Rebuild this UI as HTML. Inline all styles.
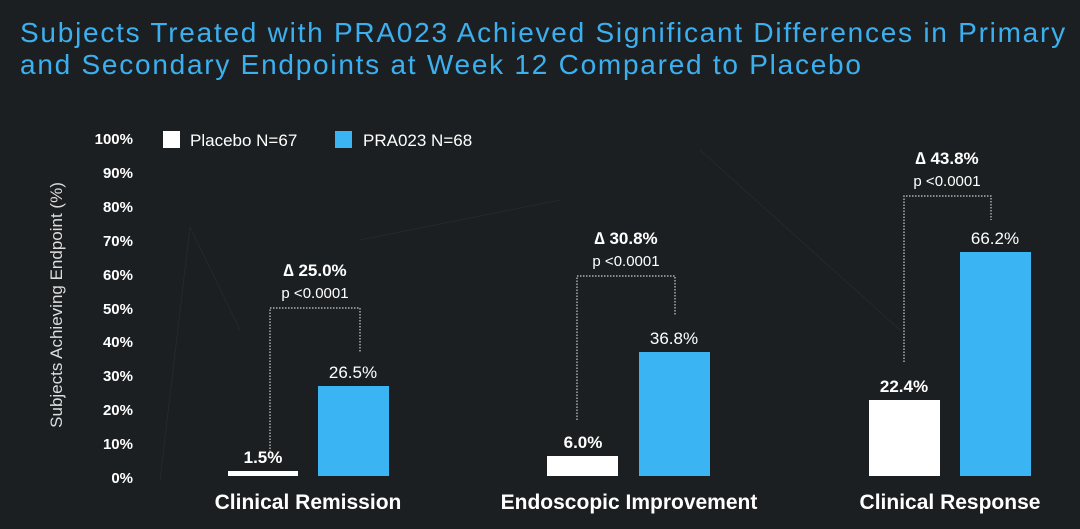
<!DOCTYPE html>
<html><head><meta charset="utf-8"><style>
body{margin:0;width:1080px;height:529px;background:#1c1f21;overflow:hidden;font-family:"Liberation Sans",sans-serif;position:relative;color:#fff}
.t{position:absolute;left:20px;top:17px;font-size:28px;line-height:32px;color:#3cb0ef;letter-spacing:1.75px;white-space:nowrap}
</style></head><body>
<div class="t">Subjects Treated with PRA023 Achieved Significant Differences in Primary<br>and Secondary Endpoints at Week 12 Compared to Placebo</div>
<svg width="1080" height="529" style="position:absolute;left:0;top:0" font-family="Liberation Sans, sans-serif">
<g stroke="#30353a" stroke-width="0.8" opacity="0.5">
<line x1="190" y1="227" x2="160" y2="480"/><line x1="190" y1="227" x2="240" y2="330"/><line x1="360" y1="240" x2="560" y2="200"/><line x1="700" y1="150" x2="900" y2="330"/>
</g>
<g font-size="15" font-weight="bold" fill="#fff" text-anchor="end">
<text x="133" y="144">100%</text><text x="133" y="178">90%</text><text x="133" y="212">80%</text><text x="133" y="246">70%</text><text x="133" y="280">60%</text><text x="133" y="314">50%</text><text x="133" y="347">40%</text><text x="133" y="381">30%</text><text x="133" y="415">20%</text><text x="133" y="449">10%</text><text x="133" y="483">0%</text>
</g>
<text transform="translate(62,305) rotate(-90)" font-size="17" fill="#ddd" text-anchor="middle">Subjects Achieving Endpoint (%)</text>
<rect x="163" y="131" width="17" height="17" fill="#fff"/><text x="190" y="146" font-size="17" fill="#fff">Placebo N=67</text>
<rect x="335" y="131" width="17" height="17" fill="#3ab4f2"/><text x="363" y="146" font-size="17" fill="#fff">PRA023 N=68</text>
<g fill="#fff"><rect x="228" y="471" width="70" height="5"/><rect x="547" y="456" width="71" height="20"/><rect x="869" y="400" width="71" height="76"/></g>
<g fill="#3ab4f2"><rect x="318" y="386" width="71" height="90"/><rect x="639" y="352" width="71" height="124"/><rect x="960" y="252" width="71" height="224"/></g>
<g font-size="17" fill="#fff" text-anchor="middle">
<text x="263" y="463" font-weight="bold">1.5%</text><text x="353" y="378">26.5%</text>
<text x="583" y="448" font-weight="bold">6.0%</text><text x="674" y="344">36.8%</text>
<text x="904" y="392" font-weight="bold">22.4%</text><text x="995" y="244">66.2%</text>
</g>
<g font-size="21" font-weight="bold" fill="#fff" text-anchor="middle">
<text x="308" y="509">Clinical Remission</text><text x="629" y="509">Endoscopic Improvement</text><text x="950" y="509">Clinical Response</text>
</g>
<g fill="none" stroke="#ccc" stroke-width="1.2" stroke-dasharray="1.5,1.5">
<polyline points="270,452 270,308 360,308 360,353"/>
<polyline points="577,420 577,276 675,276 675,316"/>
<polyline points="904,362 904,196 991,196 991,220"/>
</g>
<g fill="#fff" text-anchor="middle">
<text x="315" y="276" font-size="17" font-weight="bold">∆ 25.0%</text><text x="315" y="298" font-size="15">p &lt;0.0001</text>
<text x="626" y="244" font-size="17" font-weight="bold">∆ 30.8%</text><text x="626" y="266" font-size="15">p &lt;0.0001</text>
<text x="947" y="164" font-size="17" font-weight="bold">∆ 43.8%</text><text x="947" y="186" font-size="15">p &lt;0.0001</text>
</g>
</svg>
</body></html>
